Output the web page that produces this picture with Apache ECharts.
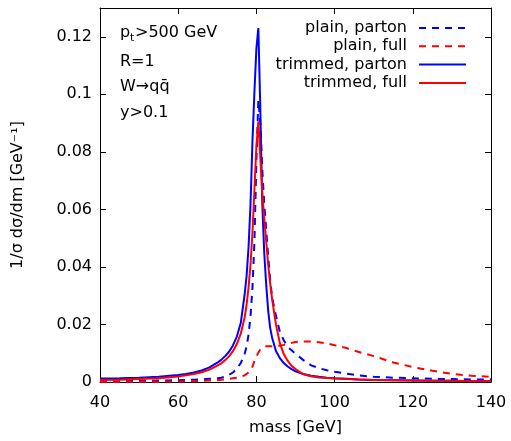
<!DOCTYPE html>
<html>
<head>
<meta charset="utf-8">
<script src="https://cdn.jsdelivr.net/npm/echarts@6/dist/echarts.min.js"></script>
<style>html,body{margin:0;padding:0;background:#fff}#c{width:511px;height:441px}</style>
</head>
<body>
<div id="c"></div>
<script>
const mass = [40,45,50,55,60,62,64,66,68,70,71,72,73,74,75,76,77,77.5,78,78.5,79,79.5,80,80.5,81,81.5,82,82.5,83,83.5,84,85,86,87,88,89,90,92,94,96,98,100,103,106,110,115,120,125,130,135,140];

const plainParton = [0.0003,0.0003,0.0004,0.0005,0.0006,
  0.0007,0.0008,0.0009,0.0011,0.0013,
  0.0015,0.0019,0.0025,0.0033,0.0046,0.0066,0.0098,
  0.0124,0.0165,0.023,0.033,0.049,0.077,0.098,0.09,0.074,0.062,0.053,0.044,0.036,0.0295,
  0.023,0.0175,0.0145,0.0122,0.011,0.0098,
  0.0076,0.0058,0.0048,0.0041,0.0036,
  0.0029,0.0023,0.0018,0.0015,0.0013,0.0011,0.001,0.0009,0.0009];

const plainFull = [0.0001,0.0001,0.0001,0.0001,0.0002,
  0.0002,0.0003,0.0004,0.0005,0.0006,
  0.0008,0.0009,0.0011,0.0013,0.0015,0.0018,0.0023,
  0.0027,0.0033,0.0042,0.0054,0.0072,0.0088,0.0102,0.0113,0.012,0.0123,0.0124,0.0124,0.0124,0.0125,
  0.0125,0.0126,0.0129,0.0133,0.0136,0.0139,
  0.0141,0.0141,0.0138,0.0134,0.0128,
  0.0118,0.0105,0.009,0.0068,0.0052,0.0039,0.0028,0.0022,0.0018];

const trimmedParton = [0.0012,0.0013,0.0015,0.0018,0.0024,
  0.0028,0.0033,0.004,0.0051,0.0067,
  0.0077,0.009,0.0105,0.0127,0.0158,0.0205,0.0305,
  0.037,0.047,0.062,0.084,0.101,0.116,0.123,0.095,0.062,0.045,0.034,0.025,0.019,0.0155,
  0.0108,0.0083,0.0066,0.0054,0.0045,0.0037,
  0.0028,0.0022,0.0018,0.0015,0.0013,
  0.0011,0.0009,0.0007,0.0006,0.0005,0.0004,0.0004,0.0003,0.0003];

const trimmedFull = [0.0007,0.0008,0.001,0.0013,0.0019,
  0.0023,0.0028,0.0034,0.0043,0.0057,
  0.0065,0.0076,0.0089,0.0107,0.0132,0.0168,0.0225,
  0.027,0.033,0.041,0.052,0.067,0.082,0.0906,0.078,0.066,0.057,0.049,0.041,0.0345,0.029,
  0.02,0.0135,0.0097,0.0073,0.0056,0.0045,
  0.0027,0.002,0.0016,0.0014,0.0012,
  0.001,0.0009,0.0007,0.0006,0.0005,0.0004,0.0004,0.0003,0.0003];

const seriesNames = ['plain, parton','plain, full','trimmed, parton','trimmed, full'];
const xTicks = [40,60,80,100,120,140];
const yTicks = [0,0.02,0.04,0.06,0.08,0.1,0.12];

const FONT = 'DejaVu Sans';
const FS = 16;
const BLUE = '#0000ff', RED = '#ff0000';

function pairs(arr){ return mass.map((m,i)=>[m, arr[i]]); }

const chart = echarts.init(document.getElementById('c'), null, {renderer:'canvas'});

const axisCommon = {
  axisLine:{show:true, onZero:false, lineStyle:{color:'#000', width:1}},
  axisTick:{show:true, inside:true, length:6, lineStyle:{color:'#000', width:1}},
  splitLine:{show:false}
};

function yFmt(v){ return String(+v.toFixed(2)); }

const styles = [
  {color:BLUE, type:[7,6], legendType:[7,6]},
  {color:RED, type:[7,6], legendType:[7,6]},
  {color:BLUE, type:'solid', legendType:'solid'},
  {color:RED, type:'solid', legendType:'solid'}
];
const datas = [plainParton, plainFull, trimmedParton, trimmedFull];

const legendRows = [27, 45.3, 63.6, 82];
const f = FS + 'px "DejaVu Sans"';

const option = {
  animation:false,
  backgroundColor:'#fff',
  grid:{left:100, right:20, top:8, bottom:55, containLabel:false},
  xAxis:[
    Object.assign({type:'value', min:xTicks[0], max:xTicks[xTicks.length-1], interval:20, position:'bottom',
      axisLabel:{show:true, margin:13, fontFamily:FONT, fontSize:FS, color:'#000'},
      name:'mass [GeV]', nameLocation:'middle', nameGap:38,
      nameTextStyle:{fontFamily:FONT, fontSize:FS, color:'#000'}}, axisCommon),
    Object.assign({type:'value', min:xTicks[0], max:xTicks[xTicks.length-1], interval:20, position:'top',
      axisLabel:{show:false}}, axisCommon)
  ],
  yAxis:[
    Object.assign({type:'value', min:0, max:0.13, interval:0.02, position:'left',
      axisLabel:{show:true, margin:8, fontFamily:FONT, fontSize:FS, color:'#000', formatter:yFmt, showMaxLabel:false},
      name:'1/σ dσ/dm [GeV⁻¹]', nameLocation:'middle', nameGap:74, nameRotate:90,
      nameTextStyle:{fontFamily:FONT, fontSize:FS, color:'#000'}}, axisCommon),
    Object.assign({type:'value', min:0, max:0.13, interval:0.02, position:'right',
      axisLabel:{show:false}}, axisCommon)
  ],
  legend: seriesNames.map((n,i)=>({
    data:[n], orient:'vertical', right:44, top:legendRows[i]-7, align:'right',
    itemWidth:47, itemHeight:14, padding:0, itemGap:0,
    itemStyle:{opacity:0, color:'rgba(0,0,0,0)', borderWidth:0},
    lineStyle:{color:styles[i].color, width:2, type:styles[i].legendType},
    textStyle:{fontFamily:FONT, fontSize:FS, color:'#000', padding:[0,7,0,0]}
  })),
  series: seriesNames.map((n,i)=>({
    name:n, type:'line', xAxisIndex:0, yAxisIndex:0,
    data:pairs(datas[i]), showSymbol:false, symbol:'none', smooth:false, clip:true,
    lineStyle:{color:styles[i].color, width:2, type:styles[i].type},
    itemStyle:{color:styles[i].color}
  })),
  graphic:[
    {type:'text', left:120, top:34-9.5, style:{text:'p', font:f, fill:'#000'}},
    {type:'text', left:130, top:33, style:{text:'t', font:'11px "DejaVu Sans"', fill:'#000'}},
    {type:'text', left:135, top:34-9.5, style:{text:'>500 GeV', font:f, fill:'#000'}},
    {type:'text', left:120, top:63-9.5, style:{text:'R=1', font:f, fill:'#000'}},
    {type:'text', left:120, top:88.5-9.5, style:{text:'W→qq\u0304', font:f, fill:'#000'}},
    {type:'text', left:120, top:114.5-9.5, style:{text:'y>0.1', font:f, fill:'#000'}}
  ]
};
chart.setOption(option);
</script>
</body>
</html>
